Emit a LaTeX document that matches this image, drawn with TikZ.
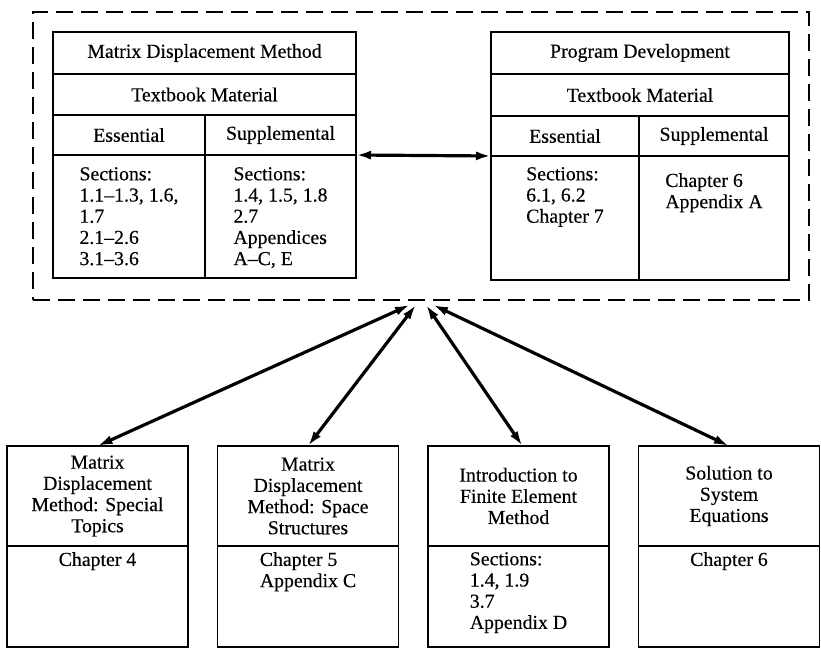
\documentclass[tikz,border=0pt]{standalone}
\usepackage{fontspec}
\setmainfont{Liberation Serif}[UprightFeatures={FakeBold=0.3}]
\usetikzlibrary{positioning,arrows.meta,fit,calc}

\begin{document}
\begin{tikzpicture}[
    x=1pt, y=-1pt,
    >={Latex[length=15pt,width=9pt]},
    font=\fontsize{19.8}{21.2}\selectfont,
    cell/.style={rectangle, draw=black, line width=1.5pt, align=center, inner sep=0pt, outer sep=0pt},
    entry/.style={align=left, inner sep=0pt},
    dashframe/.style={rectangle, draw=black, line width=1.6pt, dash pattern=on 17pt off 8pt, inner sep=20pt},
    link/.style={<->, line width=3.2pt},
    node distance=0pt
  ]
    \useasboundingbox (0,0) rectangle (821,652);

    % left table
    \node[cell, minimum width=303pt, minimum height=42pt, anchor=north west] (mdmTitle) at (53,32) {Matrix Displacement Method};
    \node[cell, minimum width=303pt, minimum height=41pt, below=of mdmTitle] (mdmBook) {Textbook Material};
    \node[cell, minimum width=152pt, minimum height=40pt, anchor=north west] (mdmEssHead) at (mdmBook.south west) {Essential};
    \node[cell, minimum width=151pt, minimum height=40pt, right=of mdmEssHead] (mdmSupHead) {Supplemental};
    \node[cell, minimum width=152pt, minimum height=123pt, below=of mdmEssHead] (mdmEssBody) {};
    \node[cell, minimum width=151pt, minimum height=123pt, below=of mdmSupHead] (mdmSupBody) {};
    \node[entry, below=12pt of mdmEssBody.north] (mdmEssText) {Sections:\\1.1--1.3, 1.6,\\1.7\\2.1--2.6\\3.1--3.6};
    \node[entry, below=12pt of mdmSupBody.north] (mdmSupText) {Sections:\\1.4, 1.5, 1.8\\2.7\\Appendices\\A--C, E};

    % right table
    \node[cell, minimum width=298pt, minimum height=42pt, anchor=north west] (pdTitle) at (491,32) {Program Development};
    \node[cell, minimum width=298pt, minimum height=42pt, below=of pdTitle] (pdBook) {Textbook Material};
    \node[cell, minimum width=148pt, minimum height=40pt, anchor=north west] (pdEssHead) at (pdBook.south west) {Essential};
    \node[cell, minimum width=150pt, minimum height=40pt, right=of pdEssHead] (pdSupHead) {Supplemental};
    \node[cell, minimum width=148pt, minimum height=124pt, below=of pdEssHead] (pdEssBody) {};
    \node[cell, minimum width=150pt, minimum height=124pt, below=of pdSupHead] (pdSupBody) {};
    \node[entry, below=11pt of pdEssBody.north] (pdEssText) {Sections:\\6.1, 6.2\\Chapter 7};
    \node[entry, below=17pt of pdSupBody.north] (pdSupText) {Chapter 6\\Appendix A};

    \node[dashframe, fit=(mdmTitle)(pdSupBody)] (frame) {};

    % bottom topics
    \node[cell, minimum width=181pt, minimum height=100pt, anchor=north west] (specTitle) at (7,446) {Matrix\\Displacement\\Method: Special\\Topics};
    \node[cell, minimum width=181pt, minimum height=101pt, below=of specTitle] (specBody) {};
    \node[cell, minimum width=181pt, minimum height=100pt, right=29.5pt of specTitle] (spaceTitle) {Matrix\\Displacement\\Method: Space\\Structures};
    \node[cell, minimum width=181pt, minimum height=101pt, below=of spaceTitle] (spaceBody) {};
    \node[cell, minimum width=181pt, minimum height=100pt, right=29.5pt of spaceTitle] (femTitle) {Introduction to\\Finite Element\\Method};
    \node[cell, minimum width=181pt, minimum height=101pt, below=of femTitle] (femBody) {};
    \node[cell, minimum width=181pt, minimum height=100pt, right=29.5pt of femTitle] (solveTitle) {Solution to\\System\\Equations};
    \node[cell, minimum width=181pt, minimum height=101pt, below=of solveTitle] (solveBody) {};

    \node[entry, below=6pt of specBody.north] (specText) {Chapter 4};
    \node[entry, below=6pt of spaceBody.north] (spaceText) {Chapter 5\\Appendix C};
    \node[entry, below=6pt of femBody.north] (femText) {Sections:\\1.4, 1.9\\3.7\\Appendix D};
    \node[entry, below=6pt of solveBody.north] (solveText) {Chapter 6};

    \coordinate (hubA) at ([xshift=-11pt, yshift=-4pt]frame.south);
    \coordinate (hubB) at ([xshift=-5pt, yshift=-4pt]frame.south);
    \coordinate (hubC) at ([xshift=5pt, yshift=-4pt]frame.south);
    \coordinate (hubD) at ([xshift=12pt, yshift=-4pt]frame.south);

    \draw[link] (mdmSupHead.south east) -- (pdEssHead.south west);
    \draw[link] (hubA) -- (specTitle.north);
    \draw[link] (hubB) -- (spaceTitle.north);
    \draw[link] (hubC) -- ([xshift=4pt]femTitle.north);
    \draw[link] (hubD) -- (solveTitle.north);
  \end{tikzpicture}
\end{document}
